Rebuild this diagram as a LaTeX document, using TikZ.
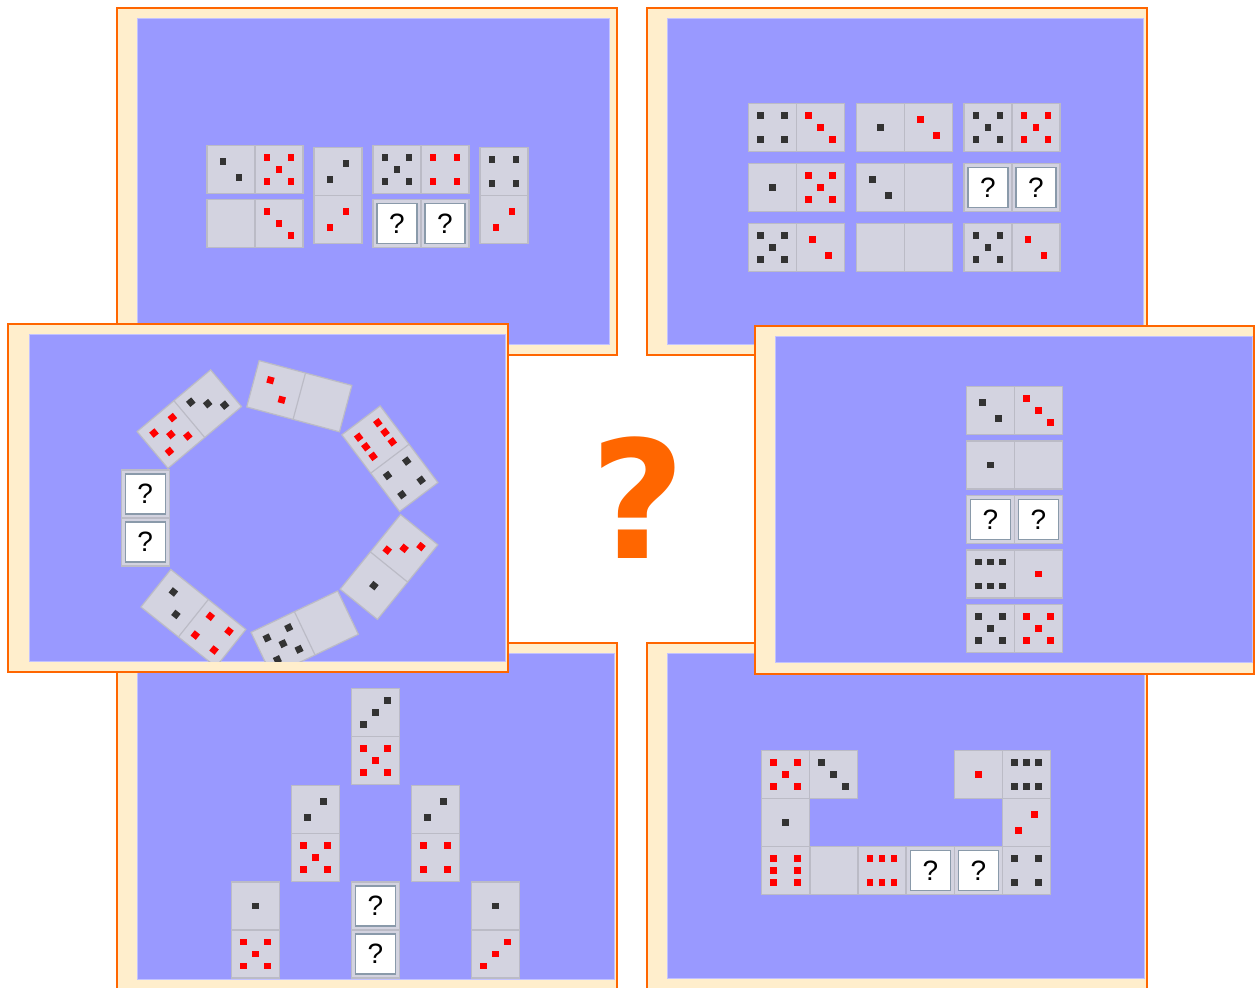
\documentclass[tikz,border=0pt]{standalone}
\usepackage{fontspec}
\setmainfont{Liberation Sans}
\newfontfamily\bigqfont{DejaVu Sans}

\definecolor{frameorange}{HTML}{FF6600}
\definecolor{framecream}{HTML}{FFEECC}
\definecolor{boardblue}{HTML}{9999FF}
\definecolor{tilegray}{HTML}{D3D3E0}
\definecolor{tileedge}{HTML}{BBBBC6}
\definecolor{pipdark}{HTML}{333333}
\definecolor{pipred}{HTML}{FF0000}
\definecolor{qedge}{HTML}{8A9AAA}

\tikzset{
  frame/.style={fill=framecream, draw=frameorange, line width=1pt},
  board/.style={fill=boardblue, draw=boardblue!60!white, line width=0.5pt},
  tile/.style={fill=tilegray, draw=tileedge, line width=0.6pt},
  qbox/.style={fill=white, draw=qedge, line width=0.7pt},
  qmark/.style={font=\fontsize{14}{14}\selectfont, inner sep=0pt},
  bigq/.style={font=\bigqfont\bfseries\fontsize{82}{82}\selectfont, text=frameorange, inner sep=0pt}
}

% one pip, colour taken from \pipcol
\newcommand{\pip}[2]{\fill[\pipcol] (#1,#2) +(-3.4,-3.4) rectangle +(3.4,3.4);}
\newcount\qno
% one half of a tile: shift, face (0-6, 7 = question box), colour
\newcommand{\halfface}[3]{%
  \begin{scope}[shift={(#1,0)}]
    \def\pipcol{#3}
    \ifcase#2\relax
    \or \pip{0}{0}
    \or \pip{-8}{-8}\pip{8}{8}
    \or \pip{-12}{-12}\pip{0}{0}\pip{12}{12}
    \or \pip{-12}{-12}\pip{12}{-12}\pip{-12}{12}\pip{12}{12}
    \or \pip{-12}{-12}\pip{12}{-12}\pip{0}{0}\pip{-12}{12}\pip{12}{12}
    \or \foreach \px in {-12,0,12} {\pip{\px}{-12}\pip{\px}{12}}
    \or \global\advance\qno by 1
        \draw[qbox] (-20,-20) rectangle (20,20);
        \node[qmark] (q\the\qno) at (0,0) {?};
    \fi
  \end{scope}}
% a domino: centre x, centre y, angle, left face, left colour, right face, right colour
\newcommand{\domino}[7]{%
  \begin{scope}[shift={(#1,#2)}, rotate=#3]
    \draw[tile] (-48,-24) rectangle (48,24);
    \draw[tileedge, line width=0.6pt] (0,-24) -- (0,24);
    \halfface{-24}{#4}{#5}
    \halfface{24}{#6}{#7}
  \end{scope}}

\begin{document}
\begin{tikzpicture}[x=0.5pt, y=-0.5pt]
  \useasboundingbox (0,0) rectangle (1255,988);
  \fill[white] (0,0) rectangle (1255,988);

  % Top left: two rows
  \draw[frame] (117,8) rectangle (617,355);
  \draw[board] (137,19) rectangle (609,345);
  \domino{255}{169.5}{0}{2}{pipdark}{5}{pipred}
  \domino{255}{223.5}{0}{0}{pipdark}{3}{pipred}
  \domino{338}{195.5}{90}{2}{pipred}{2}{pipdark}
  \domino{421}{169.5}{0}{5}{pipdark}{4}{pipred}
  \domino{421}{223.5}{0}{7}{pipdark}{7}{pipdark}
  \domino{504}{195.5}{90}{2}{pipred}{4}{pipdark}

  % Top right: three by three
  \draw[frame] (647,8) rectangle (1147,355);
  \draw[board] (667,19) rectangle (1143,345);
  \domino{796.7}{127.8}{0}{4}{pipdark}{3}{pipred}
  \domino{904.3}{127.8}{0}{1}{pipdark}{2}{pipred}
  \domino{1012}{127.8}{0}{5}{pipdark}{5}{pipred}
  \domino{796.7}{187.8}{0}{1}{pipdark}{5}{pipred}
  \domino{904.3}{187.8}{0}{2}{pipdark}{0}{pipred}
  \domino{1012}{187.8}{0}{7}{pipdark}{7}{pipdark}
  \domino{796.7}{247.8}{0}{5}{pipdark}{2}{pipred}
  \domino{904.3}{247.8}{0}{0}{pipdark}{0}{pipred}
  \domino{1012}{247.8}{0}{5}{pipdark}{2}{pipred}

  % Bottom left: pyramid
  \draw[frame] (117,643) rectangle (617,998);
  \draw[board] (137,654) rectangle (614,980);
  \domino{375.5}{736.7}{90}{5}{pipred}{3}{pipdark}
  \domino{315.3}{833.3}{90}{5}{pipred}{2}{pipdark}
  \domino{435.5}{833.3}{90}{4}{pipred}{2}{pipdark}
  \domino{255.3}{930}{90}{5}{pipred}{1}{pipdark}
  \domino{375.5}{930}{90}{7}{pipdark}{7}{pipdark}
  \domino{495.5}{930}{90}{3}{pipred}{1}{pipdark}

  % Bottom right: open loop
  \draw[frame] (647,643) rectangle (1147,998);
  \draw[board] (667,654) rectangle (1144,979);
  \domino{809.8}{774.2}{0}{5}{pipred}{3}{pipdark}
  \domino{1002.4}{774.2}{0}{1}{pipred}{6}{pipdark}
  \domino{785.5}{846.7}{90}{6}{pipred}{1}{pipdark}
  \domino{858}{870.8}{0}{0}{pipdark}{6}{pipred}
  \domino{954.5}{870.8}{0}{7}{pipdark}{7}{pipdark}
  \domino{1026.7}{846.7}{90}{4}{pipdark}{2}{pipred}

  % Middle left: ring
  \draw[frame] (8,324) rectangle (508,672);
  \draw[board] (29,335) rectangle (505,662);
  \begin{scope}
    \clip (29,335) rectangle (505,662);
    \domino{189.3}{419.1}{40}{5}{pipred}{3}{pipdark}
    \domino{299.3}{396.2}{-15}{2}{pipred}{0}{pipdark}
    \domino{389.9}{458.7}{-53}{6}{pipred}{4}{pipdark}
    \domino{389}{567}{51}{1}{pipdark}{3}{pipred}
    \domino{304.7}{633.3}{25.5}{5}{pipdark}{0}{pipdark}
    \domino{193.4}{618.2}{-38.6}{2}{pipdark}{4}{pipred}
    \domino{145.2}{518}{90}{7}{pipdark}{7}{pipdark}
  \end{scope}

  % Middle right: column
  \draw[frame] (755,326) rectangle (1254,674);
  \draw[board] (775,337) rectangle (1252,663);
  \domino{1014.5}{410.3}{0}{2}{pipdark}{3}{pipred}
  \domino{1014.5}{465}{0}{1}{pipdark}{0}{pipred}
  \domino{1014.5}{519.5}{0}{7}{pipdark}{7}{pipdark}
  \domino{1014.5}{574}{0}{6}{pipdark}{1}{pipred}
  \domino{1014.5}{628.5}{0}{5}{pipdark}{5}{pipred}

  % Centre
  \node[bigq] (query) at (638,498) {?};
\end{tikzpicture}
\end{document}
